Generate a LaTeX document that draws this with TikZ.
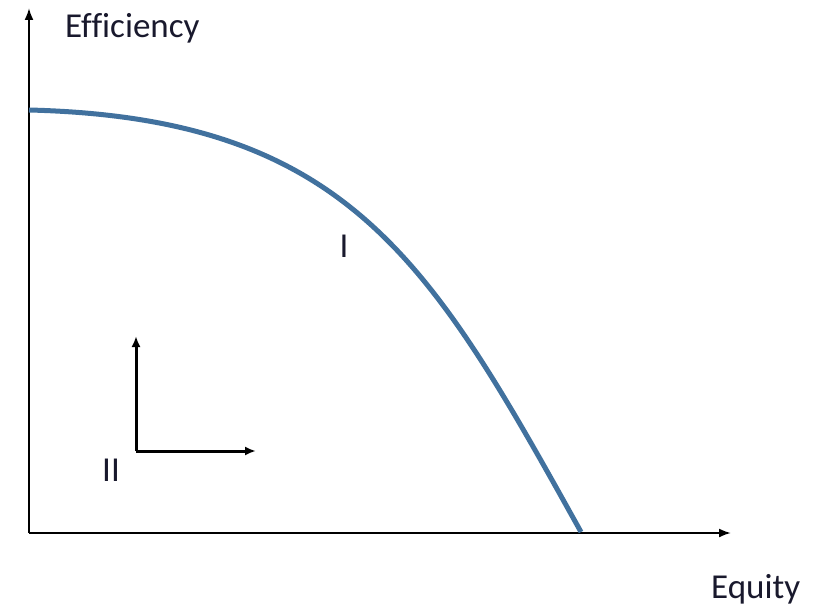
\documentclass[tikz,border=0pt]{standalone}
\usepackage{fontspec}
\setmainfont[Ligatures=NoCommon]{Carlito}
\usetikzlibrary{arrows.meta}
\definecolor{curveblue}{RGB}{65,113,158}
\definecolor{txt}{RGB}{25,25,45}
\tikzset{
  axis/.style={line width=2pt, black, -{Latex[length=12pt,width=9pt]}},
  smallarrow/.style={line width=3pt, black, -{Latex[length=11pt,width=9pt]}},
  lbl/.style={inner sep=0pt, text=txt, font=\fontsize{35}{40}\selectfont},
  frontier/.style={line width=5pt, curveblue}
}
\begin{document}
\begin{tikzpicture}[x=1pt,y=-1pt]
\useasboundingbox (0,0) rectangle (822,607);
\coordinate (O) at (29,533);
\coordinate (ytip) at (29,8);
\coordinate (xtip) at (731,533);
\draw[axis] (O) -- (ytip);
\draw[axis] (O) -- (xtip);
\node[lbl, anchor=base west] (eff) at (65,38) {Efficiency};
\node[lbl, anchor=base west] (equ) at (711,598) {Equity};
\coordinate (f0) at (29,110);
\coordinate (f2) at (581,532);
\draw[frontier] (f0) .. controls (349,118) and (431,262) .. (f2);
\node[lbl, anchor=base] (one) at (344,257) {I};
\coordinate (c) at (136,451);
\coordinate (up) at (136,336);
\coordinate (right) at (256,451);
\draw[smallarrow] (c) -- (up);
\draw[smallarrow] (c) -- (right);
\node[lbl, anchor=base] (two) at (111,481) {II};
\end{tikzpicture}
\end{document}
